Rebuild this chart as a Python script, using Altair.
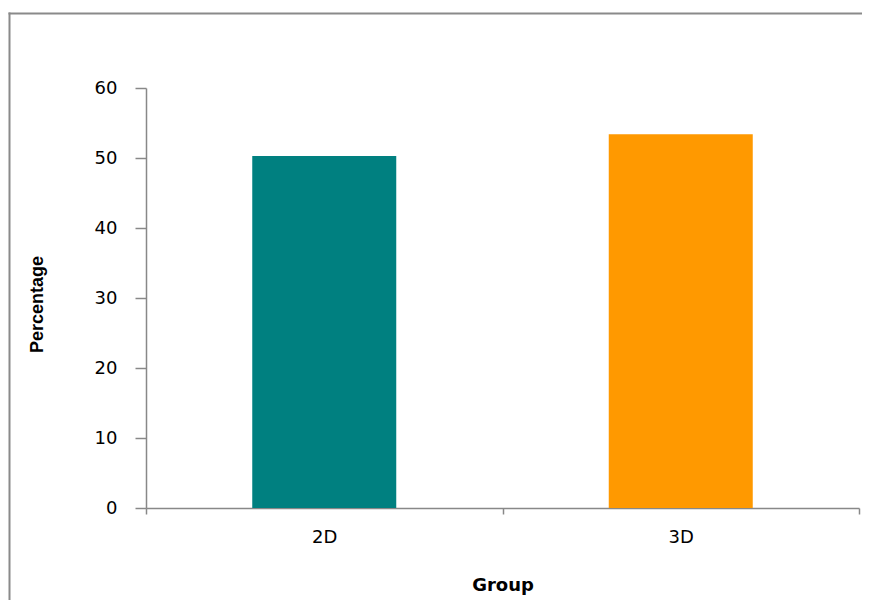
import altair as alt
import pandas as pd

groups = ["2D", "3D"]
percentages = [50.3, 53.4]
colors = ["#008080", "#FF9900"]

df = pd.DataFrame({"Group": groups, "Percentage": percentages})

W, H = 713, 420
AXIS_COLOR = "#888888"
LABEL_FONT = "DejaVu Sans"

bars = alt.Chart(df).mark_bar(size=144).encode(
    x=alt.X(
        "Group:N",
        sort=groups,
        scale=alt.Scale(paddingInner=0, paddingOuter=0),
        axis=alt.Axis(
            title="Group",
            labelAngle=0,
            tickBand="extent",
            tickSize=6,
            tickColor=AXIS_COLOR,
            tickWidth=1.5,
            domainColor=AXIS_COLOR,
            domainWidth=1.5,
            labelFont=LABEL_FONT,
            labelFontSize=18,
            labelColor="#000000",
            labelPadding=14,
            titleFont=LABEL_FONT,
            titleFontSize=18,
            titleFontWeight="bold",
            titleColor="#000000",
            titleY=82,
            titleBaseline="alphabetic",
        ),
    ),
    y=alt.Y(
        "Percentage:Q",
        scale=alt.Scale(domain=[0, 60], nice=False),
        axis=alt.Axis(
            title="Percentage",
            values=[0, 10, 20, 30, 40, 50, 60],
            grid=False,
            tickSize=11,
            tickColor=AXIS_COLOR,
            tickWidth=1.5,
            domainColor=AXIS_COLOR,
            domainWidth=1.5,
            labelFont=LABEL_FONT,
            labelFontSize=18,
            labelColor="#000000",
            labelPadding=18,
            titleFont='"Liberation Sans Narrow", "Arial Narrow", "Liberation Sans"',
            titleFontSize=18,
            titleFontWeight="bold",
            titleColor="#000000",
            titleAngle=-90,
            titleX=-109,
            titleY=216,
            titleAlign="center",
            titleBaseline="middle",
        ),
    ),
    color=alt.Color("Group:N", scale=alt.Scale(domain=groups, range=colors), legend=None),
)

frame_top = alt.Chart(alt.Data(values=[{}])).mark_rule(
    stroke="#8a8a8a", strokeWidth=2
).encode(
    x=alt.value(-137.5),
    x2=alt.value(W + 200),
    y=alt.value(-74.5),
)

frame_left = alt.Chart(alt.Data(values=[{}])).mark_rule(
    stroke="#8a8a8a", strokeWidth=2
).encode(
    x=alt.value(-136.5),
    y=alt.value(-75.5),
    y2=alt.value(H + 200),
)

chart = alt.layer(frame_top, frame_left, bars).properties(
    width=W,
    height=H,
    autosize=alt.AutoSizeParams(type="none"),
    padding={"left": 138, "top": 80, "right": 3, "bottom": 92},
).configure(background="white").configure_view(strokeWidth=0, stroke=None)

chart.save("out.html", embed_options={"renderer": "svg", "actions": False})
